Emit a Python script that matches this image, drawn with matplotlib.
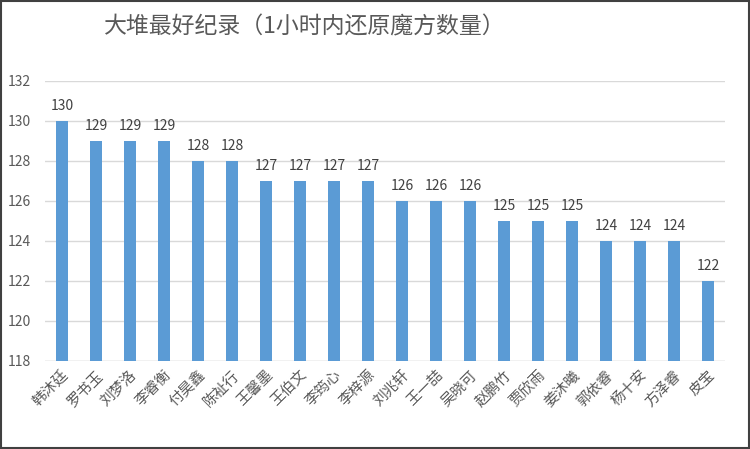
import matplotlib
matplotlib.use('Agg')
import matplotlib.pyplot as plt
from matplotlib.patches import Rectangle

plt.rcParams['font.family'] = ['Noto Sans CJK SC', 'DejaVu Sans']

# Données
names = ['韩沐廷', '罗书玉', '刘梦洛', '李睿衡', '付昊鑫', '陈祉行', '王馨墨', '王伯文',
         '李筠心', '李梓源', '刘兆轩', '王一喆', '吴晓可', '赵鹏竹', '贾欣雨', '姜沐曦',
         '郭依睿', '杨十安', '方泽睿', '皮宝']
scores = [130, 129, 129, 129, 128, 128, 127, 127, 127, 127, 126, 126, 126, 125, 125, 125,
          124, 124, 124, 122]
yticks = [118, 120, 122, 124, 126, 128, 130, 132]
title = '大堆最好纪录（1小时内还原魔方数量）'

bar_color = '#5B9BD5'
text_color = '#595959'

fig = plt.figure(figsize=(7.5, 4.49), dpi=100)
ax = fig.add_axes([0.06, 0.196, 0.907, 0.624])

x = list(range(len(names)))
ax.bar(x, [s - 118 for s in scores], bottom=118, width=0.34, color=bar_color, zorder=3)

for xi, s in zip(x, scores):
    ax.text(xi, s + 0.4, str(s), ha='center', va='bottom', fontsize=10, color='#404040')

ax.set_xlim(-0.5, len(names) - 0.5)
ax.set_ylim(118, 132)
ax.set_yticks(yticks)
ax.set_yticklabels([str(t) for t in yticks], fontsize=10, color=text_color)
ax.yaxis.grid(True, color='#d9d9d9', linewidth=1, zorder=0)
ax.tick_params(axis='y', length=0, pad=10)
ax.tick_params(axis='x', length=0, pad=5)
ax.set_xticks(x)
ax.set_xticklabels(names, rotation=45, ha='right', rotation_mode='anchor',
                   fontsize=10.5, color=text_color)
for sp in ax.spines.values():
    sp.set_visible(False)
ax.axhline(118, color='#d9d9d9', linewidth=1, zorder=2)

fig.text(0.407, 0.94, title, ha='center', va='center', fontsize=16.5,
         color=text_color)

# Cadre du graphique
fig.patches.append(Rectangle((0.001, 0.002), 0.997, 0.996, transform=fig.transFigure,
                             fill=False, edgecolor='#404040', linewidth=1.5))

fig.savefig('out.png', dpi=100)
